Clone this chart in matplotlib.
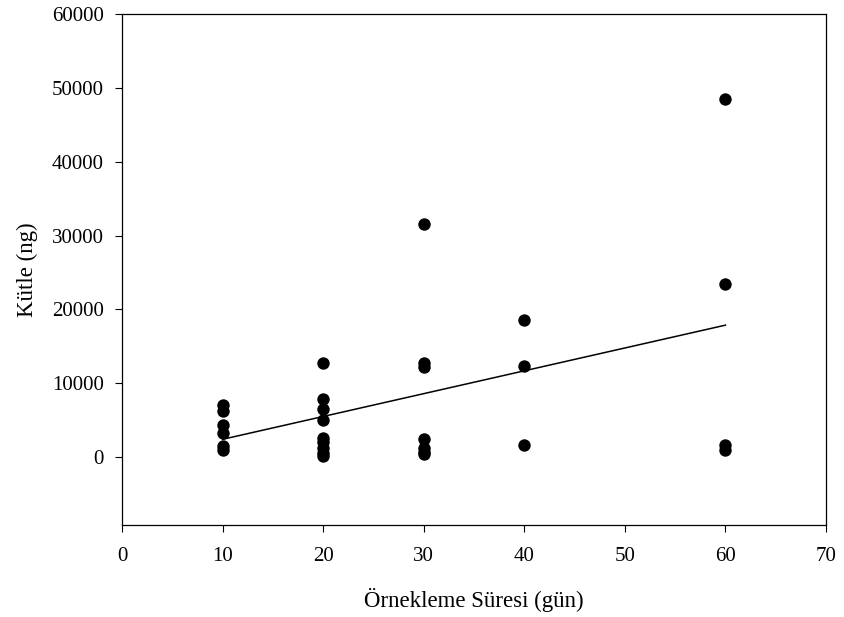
import numpy as np
import matplotlib
matplotlib.use("Agg")
import matplotlib.pyplot as plt

# Sampling duration (days) and collected mass (ng)
days_10 = [7000, 6200, 4400, 3300, 1500, 1000]
days_20 = [12700, 7900, 6500, 5000, 2600, 2000, 1200, 500, 200]
days_30 = [31500, 12700, 12200, 2500, 1200, 700, 400]
days_40 = [18600, 12400, 1700]
days_60 = [48500, 23500, 1700, 900]

groups = {10: days_10, 20: days_20, 30: days_30, 40: days_40, 60: days_60}

x = np.concatenate([[d] * len(v) for d, v in groups.items()]).astype(float)
y = np.concatenate([v for v in groups.values()]).astype(float)

x_ticks = [0, 10, 20, 30, 40, 50, 60, 70]
y_ticks = [0, 10000, 20000, 30000, 40000, 50000, 60000]

plt.rcParams["font.family"] = ["Liberation Serif", "DejaVu Serif"]

fig = plt.figure(figsize=(8.45, 6.17), dpi=100)
ax = fig.add_axes([0.1444, 0.1491, 0.8331, 0.8282])

ax.scatter(x, y, s=80, color="black", zorder=3, linewidths=0)

# Least-squares trend line over the sampled range
slope, intercept = np.polyfit(x, y, 1)
xf = np.array([x.min(), x.max()])
ax.plot(xf, slope * xf + intercept, color="black", lw=1.1, zorder=2)

ax.set_xlim(0, 70)
ax.set_ylim(-9200, 60000)
ax.set_xticks(x_ticks)
ax.set_yticks(y_ticks)
ax.tick_params(direction="out", length=5, width=0.8, labelsize=15)
ax.tick_params(axis="x", pad=11)
ax.tick_params(axis="y", pad=8)
for sp in ax.spines.values():
    sp.set_linewidth(0.9)

ax.set_xlabel("Örnekleme Süresi (gün)", fontsize=16.5, labelpad=16)
ax.set_ylabel("Kütle (ng)", fontsize=16.5, labelpad=10)

fig.savefig("out.png", dpi=100)
